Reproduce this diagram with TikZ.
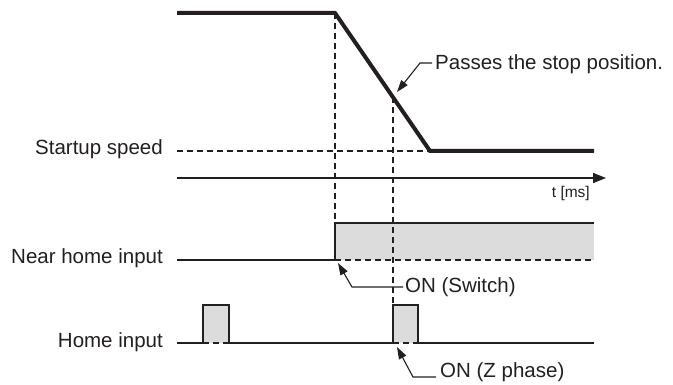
\documentclass[tikz,border=0pt]{standalone}
\usepackage{fontspec}
\setmainfont{Liberation Sans}
\usetikzlibrary{arrows.meta}
\definecolor{ink}{HTML}{231F20}
\definecolor{fillgray}{HTML}{DCDCDC}
\begin{document}
\begin{tikzpicture}[x=1pt,y=1pt,
  speedline/.style={line width=4pt, draw=ink, line join=miter},
  sigline/.style={line width=2pt, draw=ink},
  guide/.style={line width=1.3pt, draw=ink, dash pattern=on 6pt off 4pt},
  leader/.style={line width=1.1pt, draw=ink, -{Triangle[length=12pt,width=8pt,fill=ink]}},
  axisline/.style={line width=1.5pt, draw=ink, -{Triangle[length=13pt,width=10pt]}},
  lbl/.style={font=\fontsize{20.5}{24}\selectfont, text=ink, inner sep=0pt},
  smalllbl/.style={font=\fontsize{15.5}{18}\selectfont, text=ink, inner sep=0pt}]
\useasboundingbox (0,0) rectangle (673,-385);

% key points (y measured downward, written negative)
\coordinate (s0) at (177,-13);
\coordinate (s1) at (335,-13);
\coordinate (s2) at (430,-151);
\coordinate (s3) at (594,-151);
\coordinate (pstop) at (393,-97);
\coordinate (ss0) at (177,-151);

\coordinate (ax0) at (177,-178);
\coordinate (ax1) at (606,-178);

\coordinate (n0) at (177,-260);
\coordinate (n1) at (335,-260);
\coordinate (n2) at (335,-223);
\coordinate (n3) at (594,-223);
\coordinate (n4) at (594,-260);

\coordinate (h0) at (177,-343);
\coordinate (h1) at (203,-343);
\coordinate (h2) at (203,-305);
\coordinate (h3) at (229,-305);
\coordinate (h4) at (229,-343);
\coordinate (h5) at (393,-343);
\coordinate (h6) at (393,-305);
\coordinate (h7) at (418,-305);
\coordinate (h8) at (418,-343);
\coordinate (h9) at (594,-343);

% gray fills
\fill[fillgray] (n2) rectangle (n4);
\fill[fillgray] (h2) rectangle (h4);
\fill[fillgray] (h6) rectangle (h8);

% dashed guides
\draw[guide] (ss0) -- (s2);
\draw[guide] (s1) -- (n2);
\draw[guide] (pstop) -- (h6);
\draw[guide] (n1) -- (n4);
\draw[guide] (h1) -- (h4);
\draw[guide] (h5) -- (h8);

% speed profile
\draw[speedline] (s0) -- (s1) -- (s2) -- (s3);

% time axis
\draw[axisline] (ax0) -- (ax1);
\node[smalllbl, anchor=base east] (tl) at (590,-198) {t [ms]};

% signals
\draw[sigline] (n0) -- (n1) -- (n2) -- (n3);
\draw[sigline] (h0) -- (h1) -- (h2) -- (h3) -- (h4) -- (h5) -- (h6) -- (h7) -- (h8) -- (h9);

% left labels
\node[lbl, anchor=base east] (lss) at (163,-155) {Startup speed};
\node[lbl, anchor=base east] (lnh) at (163,-264) {Near home input};
\node[lbl, anchor=base east] (lhi) at (163,-347) {Home input};

% callouts
\node[lbl, anchor=base west] (lpass) at (435,-70) {Passes the stop position.};
\coordinate (pe) at (432,-63);
\coordinate (pb) at (420,-63);
\coordinate (ptip) at (397,-92);
\draw[leader] (pe) -- (pb) -- (ptip);

\node[lbl, anchor=base west] (lsw) at (405,-292) {ON (Switch)};
\coordinate (swe) at (403,-287);
\coordinate (swb) at (352,-287);
\coordinate (swtip) at (338,-263);
\draw[leader] (swe) -- (swb) -- (swtip);

\node[lbl, anchor=base west] (lz) at (440,-377) {ON (Z phase)};
\coordinate (ze) at (436,-377);
\coordinate (zb) at (413,-377);
\coordinate (ztip) at (397,-347);
\draw[leader] (ze) -- (zb) -- (ztip);
\end{tikzpicture}
\end{document}
